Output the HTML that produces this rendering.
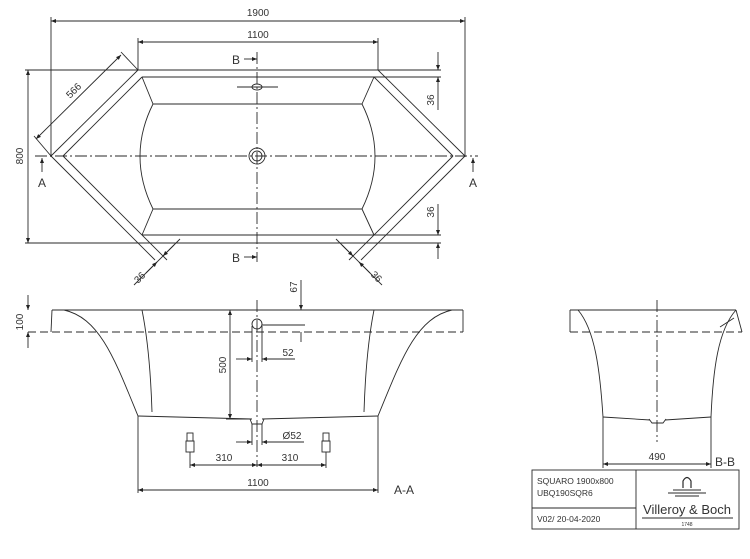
<!DOCTYPE html>
<html><head><meta charset="utf-8"><style>
html,body{margin:0;padding:0;background:#fff;width:750px;height:559px;overflow:hidden}
svg{display:block}
text{font-family:"Liberation Sans",sans-serif;fill:#333}
</style></head><body>
<svg width="750" height="559" viewBox="0 0 750 559" xmlns="http://www.w3.org/2000/svg">
<defs>
<marker id="a" viewBox="0 0 10 10" refX="10" refY="5" markerWidth="7" markerHeight="5" orient="auto-start-reverse" markerUnits="userSpaceOnUse"><path d="M0,1 L10,5 L0,9 z" fill="#222"/></marker>
</defs>
<g stroke="#2a2a2a" stroke-width="0.9" fill="none">
<!-- TOP VIEW -->
<line x1="51" y1="21" x2="465" y2="21" marker-start="url(#a)" marker-end="url(#a)"/>
<line x1="51" y1="17" x2="51" y2="157"/>
<line x1="465" y1="17" x2="465" y2="157"/>
<line x1="138" y1="42" x2="378" y2="42" marker-start="url(#a)" marker-end="url(#a)"/>
<line x1="138" y1="38" x2="138" y2="70"/>
<line x1="378" y1="38" x2="378" y2="70"/>
<!-- outer hexagon -->
<line x1="25" y1="70" x2="441" y2="70"/>
<line x1="25" y1="243" x2="441" y2="243"/>
<line x1="138" y1="70" x2="51" y2="156"/>
<line x1="378" y1="70" x2="465" y2="156"/>
<line x1="51" y1="156" x2="155" y2="260"/>
<line x1="465" y1="156" x2="361" y2="260"/>
<!-- inner rim -->
<line x1="142" y1="77" x2="441" y2="77"/>
<line x1="142" y1="235" x2="441" y2="235"/>
<line x1="142" y1="77" x2="63" y2="156"/>
<line x1="374" y1="77" x2="453" y2="156"/>
<line x1="63" y1="156" x2="167" y2="260"/>
<line x1="453" y1="156" x2="349" y2="260"/>
<!-- basin -->
<line x1="153" y1="104" x2="362" y2="104"/>
<line x1="153" y1="209" x2="362" y2="209"/>
<line x1="142" y1="77" x2="153" y2="104"/>
<line x1="374" y1="77" x2="362" y2="104"/>
<line x1="142" y1="235" x2="153" y2="209"/>
<line x1="374" y1="235" x2="362" y2="209"/>
<path d="M153,104 Q127,156 153,209"/>
<path d="M362,104 Q388,156 362,209"/>
<line x1="35" y1="156" x2="478" y2="156" stroke-dasharray="12,3,2,3"/>
<line x1="257" y1="52" x2="257" y2="262" stroke-dasharray="12,3,2,3"/>
<circle cx="257" cy="156" r="8"/><circle cx="257" cy="156" r="5"/>
<ellipse cx="257" cy="87" rx="5" ry="3"/>
<line x1="237" y1="87" x2="278" y2="87"/>
<line x1="244" y1="59" x2="257" y2="59" marker-end="url(#a)"/>
<line x1="244" y1="257" x2="257" y2="257" marker-end="url(#a)"/>
<line x1="42" y1="172" x2="42" y2="158" marker-end="url(#a)"/>
<line x1="473" y1="172" x2="473" y2="158" marker-end="url(#a)"/>
<line x1="28" y1="70" x2="28" y2="243" marker-start="url(#a)" marker-end="url(#a)"/>
<!-- 566 -->
<line x1="36" y1="139" x2="121" y2="55" marker-start="url(#a)" marker-end="url(#a)"/>
<line x1="121" y1="52" x2="138" y2="70"/>
<line x1="34" y1="136" x2="51" y2="156"/>
<!-- right 36 dims -->
<line x1="438" y1="52" x2="438" y2="70" marker-end="url(#a)"/>
<line x1="438" y1="110" x2="438" y2="77" marker-end="url(#a)"/>
<line x1="438" y1="204" x2="438" y2="235" marker-end="url(#a)"/>
<line x1="438" y1="259" x2="438" y2="243" marker-end="url(#a)"/>
<!-- bottom diagonal 36 -->
<line x1="134" y1="285" x2="180" y2="239"/>
<line x1="146" y1="273" x2="157" y2="262" marker-end="url(#a)"/>
<line x1="174" y1="245" x2="163" y2="256" marker-end="url(#a)"/>
<line x1="382" y1="285" x2="336" y2="239"/>
<line x1="370" y1="273" x2="359" y2="262" marker-end="url(#a)"/>
<line x1="342" y1="245" x2="353" y2="256" marker-end="url(#a)"/>

<!-- FRONT VIEW A-A -->
<line x1="52" y1="310" x2="463" y2="310"/>
<line x1="28" y1="332" x2="463" y2="332" stroke-dasharray="8,4"/>
<line x1="463" y1="310" x2="463" y2="332"/>
<line x1="52" y1="310" x2="51" y2="332"/>
<line x1="28" y1="295" x2="28" y2="310" marker-end="url(#a)"/>
<line x1="28" y1="348" x2="28" y2="332" marker-end="url(#a)"/>
<path d="M64,310 C100,318 115,360 138,416"/>
<path d="M142,310 C148,340 151,380 152,412"/>
<path d="M452,310 C416,318 401,360 378,416"/>
<path d="M374,310 C368,340 365,380 364,412"/>
<path d="M138,416 L252,419 M262,419 L378,416"/>
<line x1="138" y1="416" x2="138" y2="493"/>
<line x1="378" y1="416" x2="378" y2="493"/>
<line x1="138" y1="490" x2="378" y2="490" marker-start="url(#a)" marker-end="url(#a)"/>
<line x1="230" y1="310" x2="230" y2="419" marker-start="url(#a)" marker-end="url(#a)"/>
<line x1="226" y1="419" x2="252" y2="419"/>
<circle cx="257" cy="324" r="5"/>
<line x1="252" y1="326" x2="252" y2="362"/>
<line x1="262" y1="326" x2="262" y2="362"/>
<line x1="236" y1="359" x2="252" y2="359" marker-end="url(#a)"/>
<line x1="278" y1="359" x2="262" y2="359" marker-end="url(#a)"/>
<line x1="262" y1="359" x2="295" y2="359"/>
<line x1="301" y1="280" x2="301" y2="310" marker-end="url(#a)"/>
<line x1="301" y1="342" x2="301" y2="332"/>
<line x1="262" y1="325" x2="305" y2="325"/>
<line x1="257" y1="300" x2="257" y2="467" stroke-dasharray="12,3,2,3"/>
<path d="M250,419 L252,424 L262,424 L264,419"/>
<line x1="252" y1="424" x2="252" y2="445"/>
<line x1="262" y1="424" x2="262" y2="445"/>
<line x1="236" y1="442" x2="252" y2="442" marker-end="url(#a)"/>
<line x1="278" y1="442" x2="262" y2="442" marker-end="url(#a)"/>
<line x1="262" y1="442" x2="304" y2="442"/>
<rect x="187" y="433" width="6" height="8"/><rect x="186" y="441" width="8" height="11"/>
<rect x="323" y="433" width="6" height="8"/><rect x="322" y="441" width="8" height="11"/>
<line x1="190" y1="452" x2="190" y2="468"/>
<line x1="326" y1="452" x2="326" y2="468"/>
<line x1="190" y1="465" x2="257" y2="465" marker-start="url(#a)" marker-end="url(#a)"/>
<line x1="257" y1="465" x2="326" y2="465" marker-start="url(#a)" marker-end="url(#a)"/>

<!-- SIDE VIEW B-B -->
<line x1="570" y1="310" x2="736" y2="310"/>
<line x1="570" y1="332" x2="742" y2="332" stroke-dasharray="8,4"/>
<line x1="570" y1="310" x2="570" y2="332"/>
<line x1="736" y1="310" x2="742" y2="332"/>
<path d="M578,310 C595,330 600,370 603,417"/>
<path d="M736,310 C718,330 713,370 711,417"/>
<path d="M603,417 L650,420 M665,420 L711,417"/>
<path d="M649,419 L652,423 L663,423 L666,419"/>
<line x1="720" y1="327" x2="734" y2="318"/>
<line x1="657" y1="300" x2="657" y2="442" stroke-dasharray="12,3,2,3"/>
<line x1="603" y1="417" x2="603" y2="468"/>
<line x1="711" y1="417" x2="711" y2="468"/>
<line x1="603" y1="464" x2="711" y2="464" marker-start="url(#a)" marker-end="url(#a)"/>

<!-- TITLE BLOCK -->
<rect x="532" y="470" width="207" height="59"/>
<line x1="636" y1="470" x2="636" y2="529"/>
<line x1="532" y1="508" x2="636" y2="508"/>
<path d="M683,488 L683,481 Q687,474 691,481 L691,488" stroke-width="1.2"/>
<line x1="673" y1="490" x2="701" y2="490"/>
<line x1="668" y1="493" x2="706" y2="493"/>
<line x1="675" y1="496" x2="699" y2="496"/>
<line x1="642" y1="518" x2="733" y2="518"/>
</g>
<g font-size="10">
<text x="258" y="16" text-anchor="middle">1900</text>
<text x="258" y="38" text-anchor="middle">1100</text>
<text x="236" y="64" text-anchor="middle" font-size="12">B</text>
<text x="236" y="262" text-anchor="middle" font-size="12">B</text>
<text x="42" y="187" text-anchor="middle" font-size="12">A</text>
<text x="473" y="187" text-anchor="middle" font-size="12">A</text>
<text transform="translate(23,156) rotate(-90)" text-anchor="middle">800</text>
<text transform="translate(76,93) rotate(-45)" text-anchor="middle">566</text>
<text transform="translate(434,100) rotate(-90)" text-anchor="middle">36</text>
<text transform="translate(434,212) rotate(-90)" text-anchor="middle">36</text>
<text transform="translate(142,280) rotate(-45)" text-anchor="middle">36</text>
<text transform="translate(374,279) rotate(45)" text-anchor="middle">36</text>
<text transform="translate(23,322) rotate(-90)" text-anchor="middle">100</text>
<text transform="translate(297,287) rotate(-90)" text-anchor="middle">67</text>
<text transform="translate(226,365) rotate(-90)" text-anchor="middle">500</text>
<text x="288" y="356" text-anchor="middle">52</text>
<text x="292" y="439" text-anchor="middle">Ø52</text>
<text x="224" y="461" text-anchor="middle">310</text>
<text x="290" y="461" text-anchor="middle">310</text>
<text x="258" y="486" text-anchor="middle">1100</text>
<text x="394" y="494" font-size="12">A-A</text>
<text x="657" y="460" text-anchor="middle">490</text>
<text x="715" y="466" font-size="12">B-B</text>
<text x="537" y="484" font-size="8.5">SQUARO 1900x800</text>
<text x="537" y="496" font-size="8.5">UBQ190SQR6</text>
<text x="537" y="522" font-size="8.5">V02/ 20-04-2020</text>
<text x="687" y="514" text-anchor="middle" font-family="Liberation Serif,serif" font-size="13">Villeroy &amp; Boch</text>
<text x="687" y="526" text-anchor="middle" font-size="5">1748</text>
</g>
</svg>
</body></html>
